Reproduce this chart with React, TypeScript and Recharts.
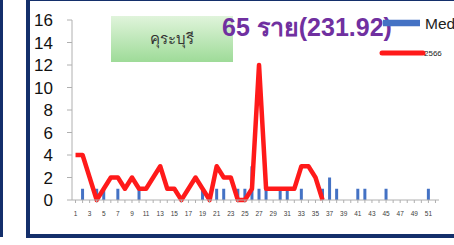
import { Bar, ComposedChart, Line, XAxis, YAxis } from "recharts";

// week numbers 1..52
const weeks = [
  1, 2, 3, 4, 5, 6, 7, 8, 9, 10, 11, 12, 13, 14, 15, 16, 17, 18, 19, 20, 21, 22, 23, 24, 25, 26,
  27, 28, 29, 30, 31, 32, 33, 34, 35, 36, 37, 38, 39, 40, 41, 42, 43, 44, 45, 46, 47, 48, 49, 50,
  51, 52,
];

// median (blue bars)
const med = [
  0, 1, 0, 1, 1, 0, 1, 0, 0, 1, 0, 0, 0, 0, 0, 0, 0, 0, 1, 0, 1, 1, 0, 1, 1, 3,
  1, 1, 0, 1, 1, 0, 1, 0, 0, 1, 2, 1, 0, 0, 1, 1, 0, 0, 1, 0, 0, 0, 0, 0, 1, 0,
];

// 2566 cases (red line), weeks 1..36
const cases2566 = [
  4, 4, 2, 0, 1, 2, 2, 1, 2, 1, 1, 2, 3, 1, 1, 0, 1, 2, 1, 0, 3, 2, 2, 0, 0, 1,
  12, 1, 1, 1, 1, 1, 3, 3, 2, 0,
];

const yTicks = [0, 2, 4, 6, 8, 10, 12, 14, 16];

const data = weeks.map((w, i) => ({
  week: w,
  med: med[i],
  y2566: i < cases2566.length ? cases2566[i] : null,
}));

const NAVY = "#142f6b";

function WeekTick({ x, y, payload }: any) {
  if (payload.value % 2 === 0) return <g />;
  return (
    <text x={x} y={y + 11} textAnchor="middle" fontSize={6.5} fill="#404040">
      {payload.value}
    </text>
  );
}

// legend drawn beside the chart so it takes no room from the plot
function ChartLegend() {
  return (
    <svg
      width={80}
      height={50}
      style={{ position: "absolute", left: 378, top: 8 }}
    >
      <line x1={5} y1={15} x2={42} y2={15} stroke="#4472C4" strokeWidth={6.5} />
      <text x={47} y={20.5} fontSize={15.5} fill="#222">Med</text>
      <line x1={4} y1={45} x2={45} y2={45} stroke="#FF1A1A" strokeWidth={5} strokeLinecap="round" />
      <text x={46} y={48} fontSize={8} fill="#222">2566</text>
    </svg>
  );
}

export default function App() {
  return (
    <div
      style={{
        position: "fixed",
        left: 0,
        top: 0,
        width: 454,
        height: 245,
        background: "#fff",
        overflow: "hidden",
        fontFamily: "'Liberation Sans', Arial, sans-serif",
      }}
    >
      <div style={{ position: "absolute", left: 0, top: 0, width: 3, height: 237, background: NAVY }} />
      <div
        style={{
          position: "absolute",
          left: 26,
          top: -3,
          width: 460,
          height: 241,
          boxSizing: "border-box",
          border: `4px solid ${NAVY}`,
        }}
      />
      <div
        style={{
          position: "absolute",
          left: 111,
          top: 16,
          width: 122,
          height: 46,
          background: "linear-gradient(#e0f4db, #9edb98)",
          display: "flex",
          alignItems: "center",
          justifyContent: "center",
          fontSize: 15,
          color: "#333",
        }}
      >
        คุระบุรี
      </div>
      <div style={{ position: "absolute", left: 0, top: 0 }}>
        <ComposedChart
          width={454}
          height={245}
          data={data}
          margin={{ top: 20, right: 15, bottom: 0, left: 0 }}
        >
          <XAxis
            dataKey="week"
            interval={0}
            height={45}
            tick={<WeekTick />}
            tickSize={3}
            stroke="#b0b0b0"
          />
          <YAxis
            width={72}
            domain={[0, 16]}
            ticks={yTicks}
            interval={0}
            tickSize={5}
            tickMargin={14}
            stroke="#b0b0b0"
            tick={{ fontSize: 17, fill: "#111" }}
          />
          <Bar dataKey="med" fill="#4472C4" barSize={3} isAnimationActive={false} />
          <Line
            dataKey="y2566"
            stroke="#FF1A1A"
            strokeWidth={4.5}
            strokeLinejoin="round"
            dot={false}
            activeDot={false}
            isAnimationActive={false}
          />
        </ComposedChart>
      </div>
      <div
        style={{
          position: "absolute",
          left: 222,
          top: 11,
          fontSize: 25,
          fontWeight: "bold",
          color: "#7030A0",
          fontFamily: "'Liberation Sans Narrow', 'Liberation Sans', sans-serif",
          whiteSpace: "nowrap",
          lineHeight: "32px",
        }}
      >
        65 ราย(231.92)
      </div>
      <ChartLegend />
    </div>
  );
}
